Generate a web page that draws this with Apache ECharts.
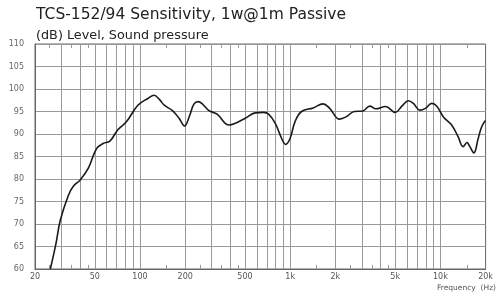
<!DOCTYPE html>
<html>
<head>
<meta charset="utf-8">
<script src="https://cdn.jsdelivr.net/npm/echarts@6/dist/echarts.min.js"></script>
<style>html,body{margin:0;padding:0;background:#fff;}#c{width:496px;height:300px;}</style>
</head>
<body>
<div id="c"></div>
<script>
// Frequency (Hz)
var freqs = [25.3, 27.6, 29.5, 33.4, 36, 40, 45.3, 51.5, 56.9, 63, 71.4, 81.2, 96.8, 113, 124, 134.6, 145, 164.6, 182, 198, 213, 229, 245, 260, 288, 326, 391, 432, 502, 584, 666, 718, 794, 878, 932, 998, 1076, 1190, 1424, 1656, 1832, 2131, 2356, 2670, 3032, 3390, 3712, 4314, 5012, 5546, 6134, 6610, 7300, 7960, 8760, 9440, 10480, 11880, 13120, 14160, 15040, 15640, 16720, 17760, 18680, 19640, 20000];
// Level (dB)
var levels = [60, 65.7, 70.9, 76.4, 78.4, 79.8, 82.4, 86.8, 87.9, 88.4, 91, 92.7, 96.4, 97.9, 98.6, 97.7, 96.4, 95.2, 93.5, 91.8, 93.9, 96.7, 97.2, 96.7, 95.2, 94.4, 92, 92.4, 93.5, 94.7, 94.8, 94.4, 92.4, 89, 87.7, 89, 92.7, 95, 95.8, 96.7, 95.7, 93.3, 93.8, 95, 95.1, 96.2, 95.6, 96.1, 94.8, 96.2, 97.4, 96.8, 95.3, 95.7, 96.8, 96.2, 93.8, 92, 89.4, 87.2, 88.1, 87.3, 85.8, 88.7, 91.3, 92.7, 93];
var xLabelValues = [20, 50, 100, 200, 500, 1000, 2000, 5000, 10000, 20000];
var xGridValues = [30, 40, 50, 60, 70, 80, 90, 100, 200, 300, 400, 500, 600, 700, 800, 900, 1000, 2000, 3000, 4000, 5000, 6000, 7000, 8000, 9000, 10000];
var xMinorTicks = [25, 35, 45, 150, 250, 350, 450, 1500, 2500, 3500, 4500, 15000];
var yMin = 60, yMax = 110, yStep = 5;

var font = 'DejaVu Sans, Verdana, sans-serif';
var chart = echarts.init(document.getElementById('c'), null, {renderer: 'canvas'});
function fmt(v) { return v >= 1000 ? (v / 1000) + 'k' : String(v); }

var minorTickLines = [];
xMinorTicks.forEach(function (v) {
  minorTickLines.push([{coord: [v, yMin]}, {coord: [v, yMin + 0.9]}]);
  minorTickLines.push([{coord: [v, yMax]}, {coord: [v, yMax - 0.9]}]);
});

chart.setOption({
  animation: false,
  title: {
    text: 'TCS-152/94 Sensitivity, 1w@1m Passive',
    subtext: '(dB) Level, Sound pressure',
    left: 31, top: 2, itemGap: 6,
    textStyle: {fontFamily: font, fontSize: 15.5, fontWeight: 'normal', color: '#222'},
    subtextStyle: {fontFamily: font, fontSize: 12.8, color: '#222'}
  },
  grid: {left: 35, right: 7, top: 44, bottom: 31, show: true, borderColor: '#666', borderWidth: 1, backgroundColor: 'transparent'},
  xAxis: {
    type: 'log', logBase: 10, min: 20, max: 20000,
    axisLine: {show: true, lineStyle: {color: '#666', width: 1}},
    splitLine: {show: false},
    axisTick: {show: false, customValues: xLabelValues},
    axisLabel: {show: true, customValues: xLabelValues, formatter: fmt, fontFamily: font, fontSize: 8, color: '#555', margin: 4}
  },
  yAxis: {
    type: 'value', min: yMin, max: yMax, interval: yStep,
    axisLine: {show: true, lineStyle: {color: '#666'}},
    axisTick: {show: false},
    splitLine: {show: true, lineStyle: {color: '#999', width: 1}},
    axisLabel: {fontFamily: font, fontSize: 8, color: '#666', margin: 11}
  },
  graphic: [{
    type: 'text', right: 0, top: 284,
    style: {text: 'Frequency  (Hz)', font: '7.5px ' + font, fill: '#555'}
  }],
  series: [
    {
      type: 'line', name: 'grid', data: [], z: 1, silent: true,
      markLine: {
        silent: true, symbol: ['none', 'none'], animation: false,
        label: {show: false},
        lineStyle: {color: '#999', width: 1, type: 'solid'},
        data: xGridValues.map(function (v) { return {xAxis: v}; }).concat(minorTickLines)
      }
    },
    {
      type: 'line', name: 'SPL', z: 10,
      data: freqs.map(function (f, i) { return [f, levels[i]]; }),
      smooth: 0.4, showSymbol: false,
      lineStyle: {color: '#1a1a1a', width: 1.6}
    }
  ]
});
</script>
</body>
</html>
